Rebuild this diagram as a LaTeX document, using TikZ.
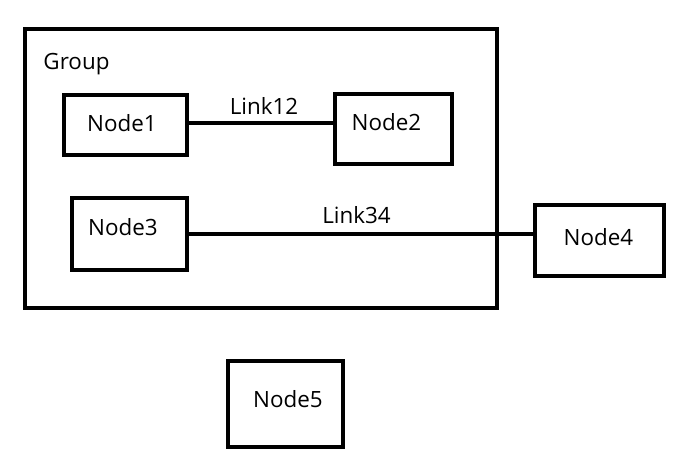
\documentclass[tikz,border=0pt]{standalone}
\usepackage{fontspec}
\setmainfont{Open Sans}
\begin{document}
\begin{tikzpicture}[x=1pt,y=-1pt,
  box/.style={draw=black,line width=4pt,fill=white,inner sep=0pt,minimum width=#1},
  lbl/.style={inner sep=0pt,anchor=base,font=\fontsize{22.4}{26}\selectfont},
  link/.style={line width=4pt}]
\useasboundingbox[fill=white] (0,0) rectangle (688,473);
% group frame
\node[draw=black,line width=4pt,inner sep=0pt,minimum width=472pt,minimum height=279pt] (grp) at (261,168.5) {};
\node[lbl] (grplbl) at (76.5,70) {Group};
% nodes
\node[box=123pt,minimum height=60pt] (n1) at (125.5,125) {};
\node[box=117pt,minimum height=70pt] (n2) at (393.5,129) {};
\node[box=115pt,minimum height=72pt] (n3) at (129.5,234) {};
\node[box=129pt,minimum height=71pt] (n4) at (599.5,240.5) {};
\node[box=115pt,minimum height=86pt] (n5) at (285.5,404) {};
% links
\draw[link] ([yshift=2pt]n1.east) -- ([yshift=2pt]n1.east -| n2.west);
\draw[link] (n3.east) -- (n3.east -| n4.west);
% texts
\node[lbl] (t1) at (122,132) {Node1};
\node[lbl] (t2) at (386.5,131) {Node2};
\node[lbl] (t3) at (123,236) {Node3};
\node[lbl] (t4) at (598.5,246) {Node4};
\node[lbl] (t5) at (288,407) {Node5};
\node[lbl] (l12) at (264,115) {Link12};
\node[lbl] (l34) at (356.5,224) {Link34};
\end{tikzpicture}
\end{document}
